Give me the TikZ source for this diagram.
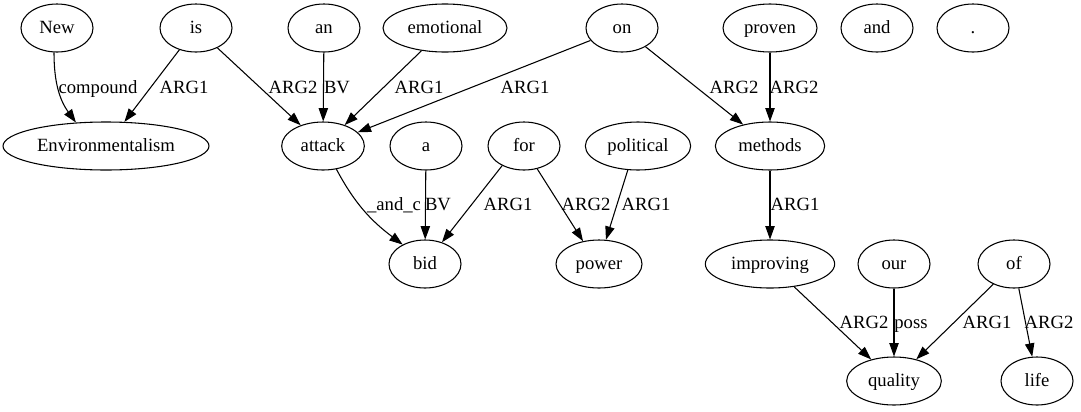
\documentclass[tikz,border=0pt]{standalone}
\usepackage{fontspec}
\setmainfont{Liberation Serif}
\usetikzlibrary{shapes.geometric,arrows.meta}
\begin{document}
\begin{tikzpicture}[x=0.75pt,y=-0.75pt,
  word/.style={draw, ellipse, line width=0.8pt, inner sep=0pt, minimum height=36pt, minimum width=54pt,
    font=\fontsize{14pt}{16pt}\selectfont, text height=11pt, text depth=3pt},
  lbl/.style={inner sep=0pt, font=\fontsize{14pt}{16pt}\selectfont, text height=11pt, text depth=3pt},
  dep/.style={draw, line width=0.8pt, -{Triangle[length=10pt,width=7pt]}}]
\useasboundingbox (0,0) rectangle (1081,411);
% row 1
\node[word] (New) at (57,28) {New};
\node[word] (is) at (196,28) {is};
\node[word] (an) at (324,28) {an};
\node[word, minimum width=93pt] (emotional) at (445,28) {emotional};
\node[word] (on) at (622,28) {on};
\node[word, minimum width=70.5pt] (proven) at (770,28) {proven};
\node[word] (and) at (877,28) {and};
\node[word] (dot) at (973,28) {.};
% row 2
\node[word, minimum width=154.5pt] (Env) at (106,146) {Environmentalism};
\node[word, minimum width=62pt] (attack) at (323,146) {attack};
\node[word] (a) at (426,146) {a};
\node[word] (for) at (524,146) {for};
\node[word, minimum width=79pt] (political) at (638,146) {political};
\node[word, minimum width=82pt] (methods) at (770,146) {methods};
% row 3
\node[word] (bid) at (425,264) {bid};
\node[word, minimum width=64.5pt] (power) at (599,264) {power};
\node[word, minimum width=97pt] (improving) at (770,264) {improving};
\node[word] (our) at (894,264) {our};
\node[word] (of) at (1014,264) {of};
% row 4
\node[word, minimum width=71pt] (quality) at (894,381) {quality};
\node[word] (life) at (1037,381) {life};
% edges
\draw[dep] (New.263) to[out=-90,in=126] (Env.142);
\draw[dep] (is) -- (Env);
\draw[dep] (is) -- (attack);
\draw[dep] (an) -- (attack);
\draw[dep] (emotional) -- (attack);
\draw[dep] (on) -- (attack);
\draw[dep] (on) -- (methods);
\draw[dep] (proven) -- (methods);
\draw[dep] (attack.300) to[out=-62,in=143] (bid.139);
\draw[dep] (a) -- (bid);
\draw[dep] (for.222) -- (bid.52);
\draw[dep] (for.300) -- (power.125);
\draw[dep] (political.247) -- (power.74);
\draw[dep] (methods) -- (improving);
\draw[dep] (improving) -- (quality);
\draw[dep] (our) -- (quality);
\draw[dep] (of) -- (quality);
\draw[dep] (of) -- (life);
% labels
\node[lbl] (l1) at (98,88) {compound};
\node[lbl] (l2) at (184,88) {ARG1};
\node[lbl] (l3) at (293,88) {ARG2};
\node[lbl] (l4) at (337,88) {BV};
\node[lbl] (l5) at (419,88) {ARG1};
\node[lbl] (l6) at (525,88) {ARG1};
\node[lbl] (l7) at (734,88) {ARG2};
\node[lbl] (l8) at (794,88) {ARG2};
\node[lbl] (l9) at (394,205) {\_and\_c};
\node[lbl] (l10) at (438,205) {BV};
\node[lbl] (l11) at (508,205) {ARG1};
\node[lbl] (l12) at (586,205) {ARG2};
\node[lbl] (l13) at (646,205) {ARG1};
\node[lbl] (l14) at (795,205) {ARG1};
\node[lbl] (l15) at (864,323) {ARG2};
\node[lbl] (l16) at (911,323) {poss};
\node[lbl] (l17) at (987,323) {ARG1};
\node[lbl] (l18) at (1049,323) {ARG2};
\end{tikzpicture}
\end{document}
